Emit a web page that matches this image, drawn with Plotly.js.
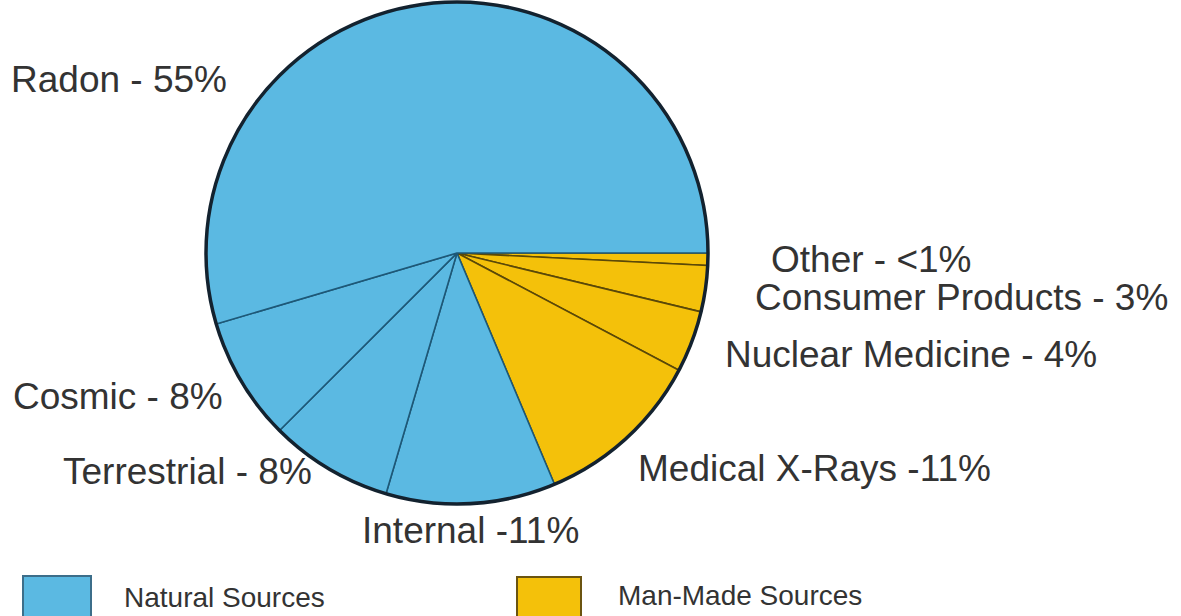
<!DOCTYPE html>
<html>
<head>
<meta charset="utf-8">
<script src="https://cdn.plot.ly/plotly-3.0.1.min.js"></script>
<style>html,body{margin:0;padding:0;background:#fff;}#chart{width:1181px;height:616px;}</style>
</head>
<body>
<div id="chart"></div>
<script>
// Data (counterclockwise from 3 o'clock)
var categories = ["Radon", "Cosmic", "Terrestrial", "Internal", "Medical X-Rays", "Nuclear Medicine", "Consumer Products", "Other"];
var values = [55, 8, 8, 11, 11, 4, 3, 0.8];
var labelTexts = ["Radon - 55%", "Cosmic - 8%", "Terrestrial - 8%", "Internal -11%", "Medical X-Rays -11%", "Nuclear Medicine - 4%", "Consumer Products - 3%", "Other - <1%"];
var sourceGroup = ["natural", "natural", "natural", "natural", "man-made", "man-made", "man-made", "man-made"];
var legendNames = ["Natural Sources", "Man-Made Sources"];

var W = 1181, H = 616;
var fillColor = {"natural": "#5BB9E2", "man-made": "#F4C10A"};
var edgeColor = {"natural": "#1E5877", "man-made": "#5A4808"};

// clockwise order starting at 3 o'clock (Other first)
var ordLabels = categories.slice().reverse();
var ordValues = values.slice().reverse();
var ordGroups = sourceGroup.slice().reverse();

var cx = 457, cy = 253, R = 251;
var dom = {x: [(cx - R) / W, (cx + R) / W], y: [1 - (cy + R) / H, 1 - (cy - R) / H]};

var pie = {
  type: "pie",
  labels: ordLabels,
  values: ordValues,
  sort: false,
  direction: "clockwise",
  rotation: 90,
  textinfo: "none",
  hoverinfo: "label+value",
  domain: dom,
  marker: {
    colors: ordGroups.map(function(g){ return fillColor[g]; }),
    line: {color: ordGroups.map(function(g){ return edgeColor[g]; }), width: 1.6}
  },
  showlegend: false
};

var rim = {
  type: "pie",
  labels: ["rim"],
  values: [1],
  sort: false,
  textinfo: "none",
  hoverinfo: "skip",
  domain: dom,
  marker: {colors: ["rgba(0,0,0,0)"], line: {color: "#13222F", width: 3.5}},
  showlegend: false
};

// label positions (pixel, left edge, vertical middle)
var labelPos = [[9, 79], [11, 396], [61, 471], [360, 530], [636, 468], [723, 354], [753, 297], [769, 259]];

function ann(t, px, py, size) {
  return {text: t, x: px / W, y: 1 - py / H, xref: "paper", yref: "paper",
    xanchor: "left", yanchor: "middle", showarrow: false,
    font: {family: "Liberation Sans, Arial, sans-serif", size: size, color: "#333333"}};
}

var annotations = labelTexts.map(function(t, i){ return ann(t, labelPos[i][0], labelPos[i][1], 37); });
annotations.push(ann(legendNames[0], 122, 597, 28));
annotations.push(ann(legendNames[1], 616, 595, 28));

var shapes = [
  {type: "rect", xref: "paper", yref: "paper", x0: 23 / W, x1: 91 / W, y0: 1 - 640 / H, y1: 1 - 576 / H,
   fillcolor: fillColor["natural"], line: {color: "#3C6E8A", width: 2}},
  {type: "rect", xref: "paper", yref: "paper", x0: 517 / W, x1: 581 / W, y0: 1 - 640 / H, y1: 1 - 577 / H,
   fillcolor: fillColor["man-made"], line: {color: "#6B5410", width: 2}}
];

var layout = {
  width: W, height: H,
  margin: {l: 0, r: 0, t: 0, b: 0},
  paper_bgcolor: "#ffffff",
  showlegend: false,
  annotations: annotations,
  shapes: shapes
};

Plotly.newPlot("chart", [pie, rim], layout, {displayModeBar: false, staticPlot: true});
</script>
</body>
</html>
